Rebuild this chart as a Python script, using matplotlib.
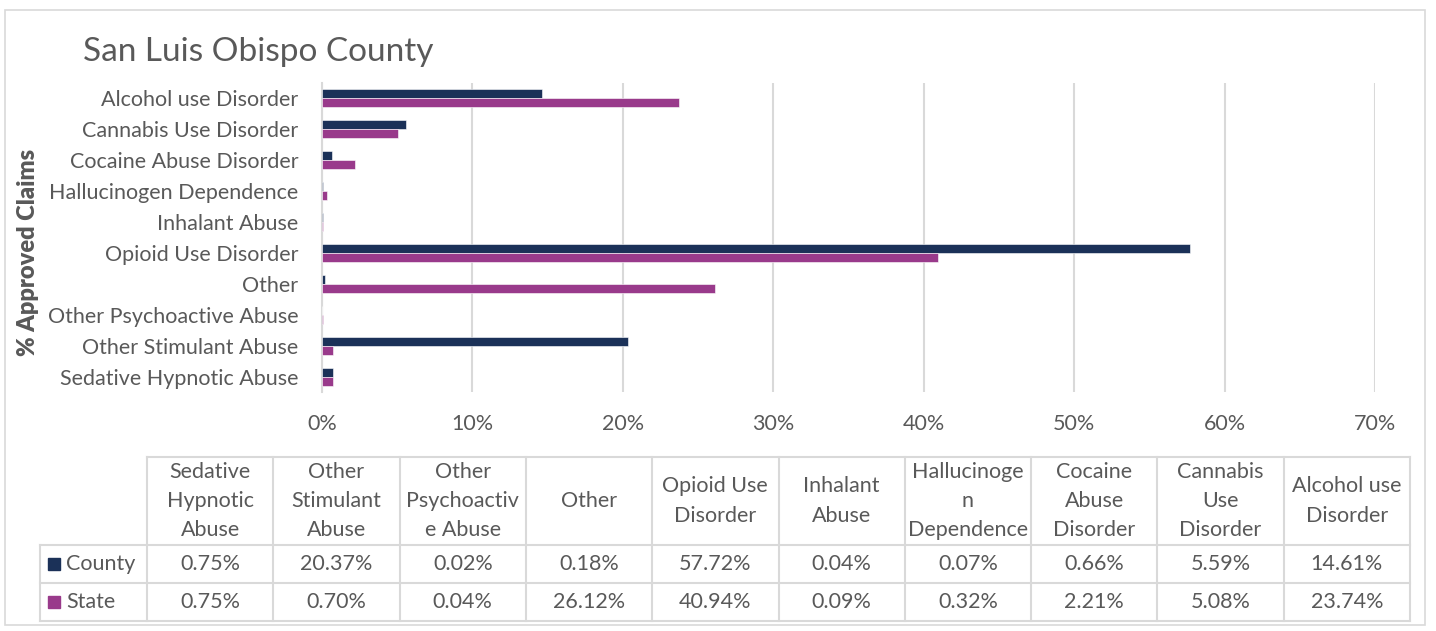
import numpy as np
import matplotlib.pyplot as plt
from matplotlib.patches import Rectangle
from matplotlib.lines import Line2D

plt.rcParams['font.family'] = ['Lato', 'DejaVu Sans']

# claim shares by disorder, in percent
categories = [
    "Alcohol use Disorder",
    "Cannabis Use Disorder",
    "Cocaine Abuse Disorder",
    "Hallucinogen Dependence",
    "Inhalant Abuse",
    "Opioid Use Disorder",
    "Other",
    "Other Psychoactive Abuse",
    "Other Stimulant Abuse",
    "Sedative Hypnotic Abuse",
]
county = [14.61, 5.59, 0.66, 0.07, 0.04, 57.72, 0.18, 0.02, 20.37, 0.75]
state = [23.74, 5.08, 2.21, 0.32, 0.09, 40.94, 26.12, 0.04, 0.70, 0.75]

# wrapped column headers for the data table (table runs bottom-to-top)
table_headers = [
    "Sedative\nHypnotic\nAbuse",
    "Other\nStimulant\nAbuse",
    "Other\nPsychoactiv\ne Abuse",
    "Other",
    "Opioid Use\nDisorder",
    "Inhalant\nAbuse",
    "Hallucinoge\nn\nDependence",
    "Cocaine\nAbuse\nDisorder",
    "Cannabis\nUse\nDisorder",
    "Alcohol use\nDisorder",
]
x_ticks = [0, 10, 20, 30, 40, 50, 60, 70]

navy = "#1B3158"
purple = "#993A8B"
txt = "#595959"
grid = "#D9D9D9"

W, H = 1436, 631
fig = plt.figure(figsize=(W / 100, H / 100), dpi=100)


def fx(px):
    return px / W


def fy(py):
    return 1 - py / H


# outer chart frame
fig.patches.append(Rectangle((fx(5), fy(625)), fx(1420), 615 / H, transform=fig.transFigure,
                             fill=False, edgecolor=grid, lw=1.2))

ax = fig.add_axes([fx(322), fy(392), fx(1375 - 322), (392 - 83) / H])
y = np.arange(len(categories))
bh = 0.29
ax.barh(y - bh / 2, county, height=bh, color=navy, edgecolor="white", linewidth=0.4, zorder=3)
ax.barh(y + bh / 2, state, height=bh, color=purple, edgecolor="white", linewidth=0.4, zorder=3)
ax.set_ylim(len(categories) - 0.5, -0.5)
ax.set_xlim(0, 70)
ax.set_xticks(x_ticks)
ax.set_xticklabels([f"{t}%" for t in x_ticks])
ax.set_yticks(y)
ax.set_yticklabels(categories)
ax.tick_params(axis="both", length=0, colors=txt, labelsize=15.5)
ax.tick_params(axis="x", pad=16)
ax.tick_params(axis="y", pad=17)
ax.grid(axis="x", color=grid, lw=1.5, zorder=0)
for s in ["top", "right", "bottom"]:
    ax.spines[s].set_visible(False)
ax.spines["left"].set_color(grid)
ax.spines["left"].set_linewidth(1.5)

fig.text(fx(83), fy(52), "San Luis Obispo County", fontsize=24, color=txt, va="center", ha="left")
fig.text(fx(28), fy(252), "% Approved Claims", fontsize=17, color=txt, fontweight="heavy",
         rotation=90, va="center", ha="center")

# data table under the axis
col0 = 40
col_l = 147
col_w = (1410 - 147) / len(table_headers)
row_top, row_hdr, row_c, row_s = 457, 545, 583, 621
tsize = 15.5

tbl_lines = []
tbl_lines.append(((col_l, 1410), (row_top, row_top)))
for yy in (row_hdr, row_c, row_s):
    tbl_lines.append(((col0, 1410), (yy, yy)))
tbl_lines.append(((col0, col0), (row_hdr, row_s)))
for i in range(len(table_headers) + 1):
    xx = col_l + i * col_w
    tbl_lines.append(((xx, xx), (row_top, row_s)))
for xs, ys in tbl_lines:
    fig.lines.append(Line2D([fx(v) for v in xs], [fy(v) for v in ys], transform=fig.transFigure,
                            color=grid, lw=1.5))

county_by_col = county[::-1]
state_by_col = state[::-1]
for i, hdr in enumerate(table_headers):
    cx = col_l + (i + 0.5) * col_w
    fig.text(fx(cx), fy((row_top + row_hdr) / 2), hdr, ha="center", va="center",
             fontsize=tsize, color=txt, linespacing=1.58)
    fig.text(fx(cx), fy((row_hdr + row_c) / 2), f"{county_by_col[i]:.2f}%", ha="center",
             va="center", fontsize=tsize, color=txt)
    fig.text(fx(cx), fy((row_c + row_s) / 2), f"{state_by_col[i]:.2f}%", ha="center",
             va="center", fontsize=tsize, color=txt)

for name, col, ymid in [("County", navy, (row_hdr + row_c) / 2), ("State", purple, (row_c + row_s) / 2)]:
    fig.patches.append(Rectangle((fx(48), fy(ymid + 6)), fx(12), 12 / H, transform=fig.transFigure,
                                 color=col))
    fig.text(fx(66), fy(ymid), name, ha="left", va="center", fontsize=tsize, color=txt)

fig.savefig("out.png", dpi=100)
